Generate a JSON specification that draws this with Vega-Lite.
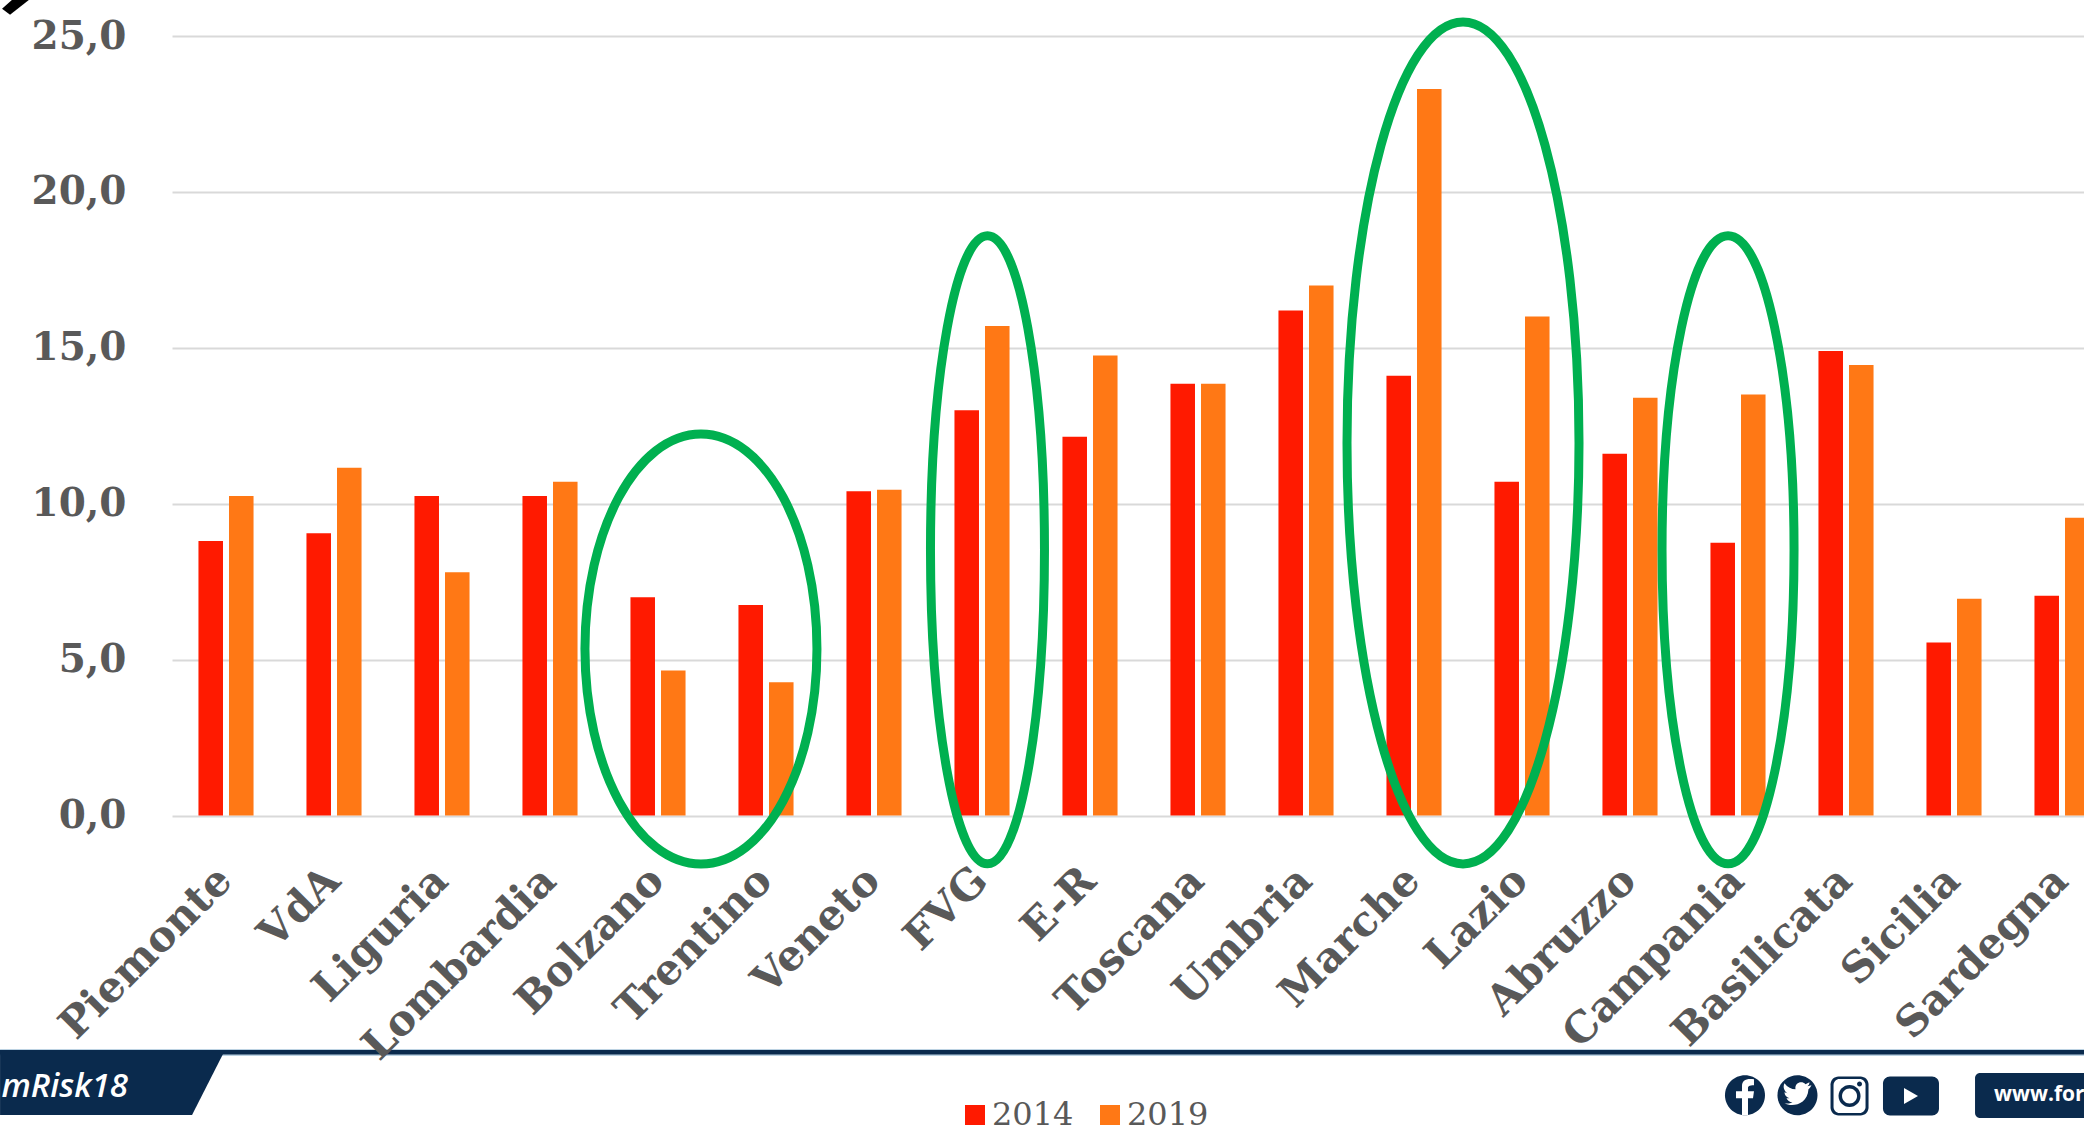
{
  "$schema": "https://vega.github.io/schema/vega-lite/v6.json",
  "autosize": {"type": "none"},
  "padding": {"left": 171, "top": 36, "right": 0, "bottom": 321.5},
  "width": 1913,
  "height": 779.5,
  "background": "#ffffff",
  "config": {"view": {"stroke": null}},
  "datasets": {
    "rates": [
      {"region": "Piemonte", "year": "2014", "value": 8.8},
      {"region": "Piemonte", "year": "2019", "value": 10.25},
      {"region": "VdA", "year": "2014", "value": 9.05},
      {"region": "VdA", "year": "2019", "value": 11.15},
      {"region": "Liguria", "year": "2014", "value": 10.25},
      {"region": "Liguria", "year": "2019", "value": 7.8},
      {"region": "Lombardia", "year": "2014", "value": 10.25},
      {"region": "Lombardia", "year": "2019", "value": 10.7},
      {"region": "Bolzano", "year": "2014", "value": 7.0},
      {"region": "Bolzano", "year": "2019", "value": 4.65},
      {"region": "Trentino", "year": "2014", "value": 6.75},
      {"region": "Trentino", "year": "2019", "value": 4.27},
      {"region": "Veneto", "year": "2014", "value": 10.4},
      {"region": "Veneto", "year": "2019", "value": 10.45},
      {"region": "FVG", "year": "2014", "value": 13.0},
      {"region": "FVG", "year": "2019", "value": 15.7},
      {"region": "E-R", "year": "2014", "value": 12.15},
      {"region": "E-R", "year": "2019", "value": 14.75},
      {"region": "Toscana", "year": "2014", "value": 13.85},
      {"region": "Toscana", "year": "2019", "value": 13.85},
      {"region": "Umbria", "year": "2014", "value": 16.2},
      {"region": "Umbria", "year": "2019", "value": 17.0},
      {"region": "Marche", "year": "2014", "value": 14.1},
      {"region": "Marche", "year": "2019", "value": 23.3},
      {"region": "Lazio", "year": "2014", "value": 10.7},
      {"region": "Lazio", "year": "2019", "value": 16.0},
      {"region": "Abruzzo", "year": "2014", "value": 11.6},
      {"region": "Abruzzo", "year": "2019", "value": 13.4},
      {"region": "Campania", "year": "2014", "value": 8.75},
      {"region": "Campania", "year": "2019", "value": 13.5},
      {"region": "Basilicata", "year": "2014", "value": 14.9},
      {"region": "Basilicata", "year": "2019", "value": 14.45},
      {"region": "Sicilia", "year": "2014", "value": 5.55},
      {"region": "Sicilia", "year": "2019", "value": 6.95},
      {"region": "Sardegna", "year": "2014", "value": 7.05},
      {"region": "Sardegna", "year": "2019", "value": 9.55}
    ],
    "highlights": [
      {"name": "north", "pos": 4.907, "val": 5.34},
      {"name": "fvg", "pos": 7.56, "val": 8.52},
      {"name": "centre", "pos": 11.963, "val": 11.95},
      {"name": "campania", "pos": 14.417, "val": 8.52}
    ],
    "footer": [
      {"kind": "edge", "pos": -1.583, "val": -7.52},
      {"kind": "band", "pos": -1.583, "val": -7.52},
      {"kind": "tab", "pos": -1.583, "val": -7.52},
      {"kind": "corner", "pos": -1.583, "val": 26.16},
      {"kind": "disc", "pos": 14.574, "val": -8.97},
      {"kind": "fglyph", "pos": 14.574, "val": -8.97},
      {"kind": "disc", "pos": 15.06, "val": -8.97},
      {"kind": "bird", "pos": 15.06, "val": -8.97},
      {"kind": "instaOuter", "pos": 15.542, "val": -9.0},
      {"kind": "instaInner", "pos": 15.542, "val": -9.0},
      {"kind": "lensOuter", "pos": 15.542, "val": -9.0},
      {"kind": "lensInner", "pos": 15.542, "val": -9.0},
      {"kind": "lensDot", "pos": 15.542, "val": -9.0},
      {"kind": "tube", "pos": 16.111, "val": -9.0},
      {"kind": "play", "pos": 16.111, "val": -9.0},
      {"kind": "urlBox", "pos": 16.704, "val": -8.26}
    ],
    "hashtag": [{"label": "mRisk18", "pos": -0.398, "val": -9.03}],
    "website": [{"label": "www.for", "pos": 16.88, "val": -9.16}]
  },
  "layer": [
    {
      "data": {"name": "rates"},
      "mark": {"type": "bar", "cornerRadius": 0},
      "encoding": {
        "x": {
          "field": "region",
          "type": "nominal",
          "sort": null,
          "scale": {"range": [1, 1945], "paddingInner": 0.49, "paddingOuter": 0.245},
          "axis": {
            "title": null,
            "domain": false,
            "ticks": false,
            "labelAngle": -45,
            "labelAlign": "right",
            "labelBaseline": "middle",
            "labelPadding": 58,
            "labelOffset": -1,
            "labelFont": "DejaVu Serif",
            "labelFontWeight": "bold",
            "labelFontSize": 42,
            "labelColor": "#595959",
            "labelLimit": 0,
            "labelOverlap": false,
            "labelBound": false,
            "labelFlush": false,
            "zindex": 1
          }
        },
        "xOffset": {"field": "year", "type": "nominal", "scale": {"paddingInner": 0.197}},
        "y": {
          "field": "value",
          "type": "quantitative",
          "scale": {"domain": [0, 25], "nice": false},
          "axis": {
            "title": null,
            "values": [0, 5, 10, 15, 20, 25],
            "domain": false,
            "ticks": false,
            "grid": true,
            "gridColor": "#d9d9d9",
            "gridWidth": 2,
            "labelPadding": 45,
            "labelFont": "DejaVu Serif",
            "labelFontWeight": "bold",
            "labelFontSize": 39,
            "labelColor": "#595959",
            "labelExpr": "replace(format(datum.value, '.1f'), '.', ',')"
          }
        },
        "color": {
          "field": "year",
          "type": "nominal",
          "scale": {"domain": ["2014", "2019"], "range": ["#ff1a00", "#ff7815"]},
          "legend": {
            "title": null,
            "orient": "none",
            "legendX": 788,
            "legendY": 1063,
            "direction": "horizontal",
            "columns": 2,
            "symbolType": "square",
            "symbolSize": 400,
            "symbolStrokeWidth": 0,
            "labelFont": "DejaVu Serif",
            "labelFontSize": 32,
            "labelColor": "#595959",
            "labelOffset": 1,
            "columnPadding": 20,
            "padding": 0
          }
        }
      }
    },
    {
      "data": {"name": "footer"},
      "mark": {"type": "point", "filled": true, "size": 4, "opacity": 1, "strokeWidth": 0},
      "encoding": {
        "x": {"field": "pos", "type": "quantitative", "scale": {"domain": [0, 18], "range": [0, 1944], "nice": false, "zero": false}, "axis": null},
        "y": {"field": "val", "type": "quantitative", "scale": {"domain": [0, 25], "nice": false}, "axis": null},
        "shape": {
          "field": "kind",
          "type": "nominal",
          "legend": null,
          "scale": {
            "domain": ["edge", "band", "tab", "corner", "disc", "fglyph", "bird", "instaOuter", "instaInner", "lensOuter", "lensInner", "lensDot", "tube", "play", "urlBox"],
            "range": [
              "M0,-1H2084V6H0Z",
              "M0,0H2084V4.5H0Z",
              "M0,0H225L192,65H0Z",
              "M2,9L10,15L29,0L12,0Z",
              "M-20,0A20,20,0,1,1,20,0A20,20,0,1,1,-20,0Z",
              "M-3,20V3H-9V-4H-3V-9C-3,-15,1,-17,9,-16V-10C4,-10,3,-9,3,-7V-4H9L8,3H3V20Z",
              "M-13,8C-6,12,10,10,11,-6C12,-7,13,-8,14,-10L10,-9C11,-10,12,-11,12,-13L8,-11C4,-15,-3,-12,-2,-6C-6,-6,-10,-8,-13,-12C-15,-8,-13,-4,-10,-2L-13,-3C-13,0,-11,2,-8,3H-11C-10,5,-8,7,-5,7C-7,8,-10,9,-13,8Z",
              "M-11,-19.5H11A8,8,0,0,1,19,-11.5V11.5A8,8,0,0,1,11,19.5H-11A8,8,0,0,1,-19,11.5V-11.5A8,8,0,0,1,-11,-19.5Z",
              "M-10,-17H10A6,6,0,0,1,16,-11V11A6,6,0,0,1,10,17H-10A6,6,0,0,1,-16,11V-11A6,6,0,0,1,-10,-17Z",
              "M-11,0A11,11,0,1,1,11,0A11,11,0,1,1,-11,0Z",
              "M-7.5,0A7.5,7.5,0,1,1,7.5,0A7.5,7.5,0,1,1,-7.5,0Z",
              "M7.5,-12A2.5,2.5,0,1,1,12.5,-12A2.5,2.5,0,1,1,7.5,-12Z",
              "M-21,-19.5H21A7,7,0,0,1,28,-12.5V12.5A7,7,0,0,1,21,19.5H-21A7,7,0,0,1,-28,12.5V-12.5A7,7,0,0,1,-21,-19.5Z",
              "M-7,-8L7,0L-7,8Z",
              "M5,0H140V45H5A5,5,0,0,1,0,40V5A5,5,0,0,1,5,0Z"
            ]
          }
        },
        "fill": {
          "field": "kind",
          "type": "nominal",
          "legend": null,
          "scale": {
            "domain": ["edge", "band", "tab", "corner", "disc", "fglyph", "bird", "instaOuter", "instaInner", "lensOuter", "lensInner", "lensDot", "tube", "play", "urlBox"],
            "range": ["#bcd2e2", "#0a2a4d", "#0a2a4d", "#000000", "#0a2a4d", "#ffffff", "#ffffff", "#0a2a4d", "#ffffff", "#0a2a4d", "#ffffff", "#0a2a4d", "#0a2a4d", "#ffffff", "#0a2a4d"]
          }
        }
      }
    },
    {
      "data": {"name": "hashtag"},
      "mark": {"type": "text", "font": "Open Sans", "fontWeight": 600, "fontStyle": "italic", "fontSize": 33, "color": "#ffffff", "baseline": "alphabetic", "align": "right"},
      "encoding": {
        "x": {"field": "pos", "type": "quantitative", "scale": {"domain": [0, 18], "range": [0, 1944], "nice": false, "zero": false}, "axis": null},
        "y": {"field": "val", "type": "quantitative", "scale": {"domain": [0, 25], "nice": false}, "axis": null},
        "text": {"field": "label"}
      }
    },
    {
      "data": {"name": "website"},
      "mark": {"type": "text", "font": "Open Sans", "fontWeight": "bold", "fontSize": 21, "color": "#ffffff", "baseline": "alphabetic", "align": "left"},
      "encoding": {
        "x": {"field": "pos", "type": "quantitative", "scale": {"domain": [0, 18], "range": [0, 1944], "nice": false, "zero": false}, "axis": null},
        "y": {"field": "val", "type": "quantitative", "scale": {"domain": [0, 25], "nice": false}, "axis": null},
        "text": {"field": "label"}
      }
    },
    {
      "data": {"name": "highlights"},
      "mark": {"type": "point", "filled": false, "size": 4, "stroke": "#00b050", "strokeWidth": 9, "opacity": 1},
      "encoding": {
        "x": {"field": "pos", "type": "quantitative", "scale": {"domain": [0, 18], "range": [0, 1944], "nice": false, "zero": false}, "axis": null},
        "y": {"field": "val", "type": "quantitative", "scale": {"domain": [0, 25], "nice": false}, "axis": null},
        "shape": {
          "field": "name",
          "type": "nominal",
          "legend": null,
          "scale": {
            "domain": ["north", "fvg", "centre", "campania"],
            "range": [
              "M0,-215A116,215,0,1,1,0,215A116,215,0,1,1,0,-215Z",
              "M0,-314A57,314,0,1,1,0,314A57,314,0,1,1,0,-314Z",
              "M0,-421A116,421,0,1,1,0,421A116,421,0,1,1,0,-421Z",
              "M0,-314A66,314,0,1,1,0,314A66,314,0,1,1,0,-314Z"
            ]
          }
        }
      }
    }
  ],
  "resolve": {"scale": {"x": "independent", "y": "independent", "shape": "independent", "fill": "independent"}}
}
